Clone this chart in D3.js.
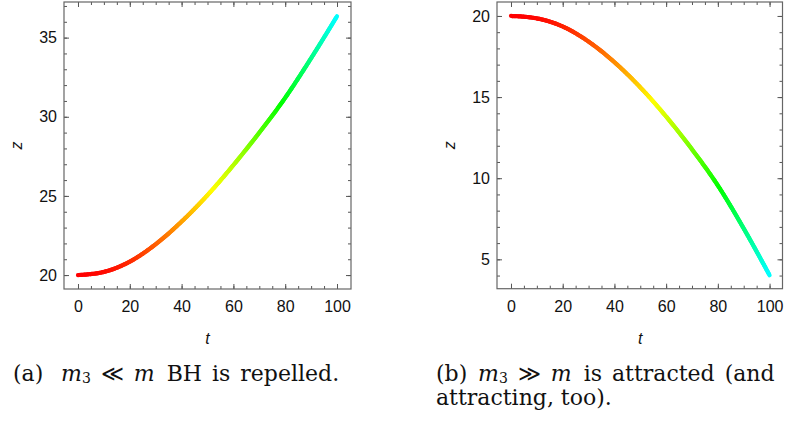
<!DOCTYPE html>
<html>
<head>
<meta charset="utf-8">
<script src="https://cdn.jsdelivr.net/npm/d3@7"></script>
<style>
  body { margin: 0; background: #fff; }
  svg { display: block; }
</style>
</head>
<body>
<div id="chart"></div>
<script>
// data
let tValues = [0, 10, 20, 30, 40, 50, 60, 70, 80, 90, 100];
let zRepelled = [20, 20.2, 20.85, 21.95, 23.38, 25.05, 26.95, 29.0, 31.2, 33.7, 36.35];
let zAttracted = [20, 19.85, 19.35, 18.42, 17.15, 15.6, 13.8, 11.78, 9.55, 6.9, 4.02];
let xTicks = [0, 20, 40, 60, 80, 100];
let yTicksLeft = [20, 25, 30, 35];
let yTicksRight = [5, 10, 15, 20];

let width = 787;
let height = 425;

let svg = d3.select("#chart")
  .append("svg")
  .attr("width", width)
  .attr("height", height);

// one framed panel, Mathematica style: ticks inward on all four sides
function drawPanel(opts) {
  let x = d3.scaleLinear().domain(opts.xDomain).range([opts.left, opts.right]);
  let y = d3.scaleLinear().domain(opts.yDomain).range([opts.bottom, opts.top]);
  let g = svg.append("g");

  let xMinor = d3.range(0, 101, 5);
  let yMinor = d3.range(Math.ceil(opts.yDomain[0]), Math.floor(opts.yDomain[1]) + 1, 1);

  // bottom + top ticks
  g.append("g")
    .attr("transform", "translate(0," + opts.bottom + ")")
    .call(d3.axisBottom(x).tickValues(xMinor).tickSize(-3).tickFormat(""));
  g.append("g")
    .attr("transform", "translate(0," + opts.bottom + ")")
    .call(d3.axisBottom(x).tickValues(xTicks).tickSize(-5).tickPadding(12).tickFormat(d3.format("d")));
  g.append("g")
    .attr("transform", "translate(0," + opts.top + ")")
    .call(d3.axisTop(x).tickValues(xMinor).tickSize(-3).tickFormat(""));
  g.append("g")
    .attr("transform", "translate(0," + opts.top + ")")
    .call(d3.axisTop(x).tickValues(xTicks).tickSize(-5).tickFormat(""));

  // left + right ticks
  g.append("g")
    .attr("transform", "translate(" + opts.left + ",0)")
    .call(d3.axisLeft(y).tickValues(yMinor).tickSize(-3).tickFormat(""));
  g.append("g")
    .attr("transform", "translate(" + opts.left + ",0)")
    .call(d3.axisLeft(y).tickValues(opts.yTicks).tickSize(-5).tickPadding(7).tickFormat(d3.format("d")));
  g.append("g")
    .attr("transform", "translate(" + opts.right + ",0)")
    .call(d3.axisRight(y).tickValues(yMinor).tickSize(-3).tickFormat(""));
  g.append("g")
    .attr("transform", "translate(" + opts.right + ",0)")
    .call(d3.axisRight(y).tickValues(opts.yTicks).tickSize(-5).tickFormat(""));

  g.selectAll(".domain").remove();
  g.selectAll(".tick line").attr("stroke", "#555").attr("stroke-width", 1);
  g.selectAll(".tick text")
    .attr("font-family", "Liberation Sans, Arial, sans-serif")
    .attr("font-size", 16)
    .attr("fill", "#111");

  // frame
  g.append("rect")
    .attr("x", opts.left)
    .attr("y", opts.top)
    .attr("width", opts.right - opts.left)
    .attr("height", opts.bottom - opts.top)
    .attr("fill", "none")
    .attr("stroke", "#666")
    .attr("stroke-width", 1.2);

  // axis labels
  g.append("text")
    .attr("x", x(50))
    .attr("y", opts.bottom + 55)
    .attr("text-anchor", "middle")
    .attr("font-family", "Liberation Sans, Arial, sans-serif")
    .attr("font-style", "italic")
    .attr("font-size", 16)
    .attr("fill", "#111")
    .text("t");
  g.append("text")
    .attr("transform", "translate(" + opts.zLabelX + "," + (opts.top + opts.bottom) / 2 + ") rotate(-90)")
    .attr("text-anchor", "middle")
    .attr("font-family", "Liberation Sans, Arial, sans-serif")
    .attr("font-style", "italic")
    .attr("font-size", 16)
    .attr("fill", "#111")
    .text("z");

  // curve, coloured by hue along z (red -> cyan)
  let pts = tValues.map((t, i) => [t, opts.z[i]]);
  let line = d3.line()
    .x(d => x(d[0]))
    .y(d => y(d[1]))
    .curve(d3.curveMonotoneX);
  let tmp = g.append("path").attr("d", line(pts)).attr("fill", "none");
  let node = tmp.node();
  let total = node.getTotalLength();
  let hue = d3.scaleLinear()
    .domain([opts.z[0], opts.z[opts.z.length - 1]])
    .range([0, 180]);
  let n = 240;
  let samples = d3.range(n + 1).map(i => node.getPointAtLength(total * i / n));
  tmp.remove();
  let segs = g.append("g");
  for (let i = 0; i < n; i++) {
    let a = samples[i], b = samples[i + 1];
    let zMid = y.invert((a.y + b.y) / 2);
    segs.append("line")
      .attr("x1", a.x).attr("y1", a.y)
      .attr("x2", b.x).attr("y2", b.y)
      .attr("stroke", d3.hsl(hue(zMid), 1, 0.5).toString())
      .attr("stroke-width", 4.2)
      .attr("stroke-linecap", "round");
  }
}

drawPanel({
  left: 64, right: 351, top: 2, bottom: 289,
  xDomain: [-5.4, 105.4],
  yDomain: [19.12, 37.25],
  yTicks: yTicksLeft,
  z: zRepelled,
  zLabelX: 22
});

drawPanel({
  left: 497, right: 782.5, top: 2, bottom: 288.7,
  xDomain: [-5.41, 105.0],
  yDomain: [3.19, 20.86],
  yTicks: yTicksRight,
  z: zAttracted,
  zLabelX: 455
});

// captions
let capFont = "DejaVu Serif, serif";
function capText(x0, y0) {
  return svg.append("text")
    .attr("x", x0)
    .attr("y", y0)
    .attr("font-family", capFont)
    .attr("font-size", 22)
    .attr("fill", "#111");
}
function caption(x0, xm, y0, label, rel, rest) {
  capText(x0, y0).text(label);
  let t = capText(xm, y0);
  t.append("tspan").attr("font-style", "italic").text("m");
  t.append("tspan").attr("font-size", 14).attr("dy", 2).text("3");
  t.append("tspan").attr("dy", -2).attr("dx", 3).text(" " + rel + " ");
  t.append("tspan").attr("dx", 3).attr("font-style", "italic").text("m");
  t.append("tspan").attr("dx", 2).attr("word-spacing", 3).text(rest);
}
caption(13, 61, 381, "(a)", "\u226A", " BH is repelled.");
caption(436, 478, 381, "(b)", "\u226B", " is attracted (and");
capText(436, 405).text("attracting, too).");
</script>
</body>
</html>
